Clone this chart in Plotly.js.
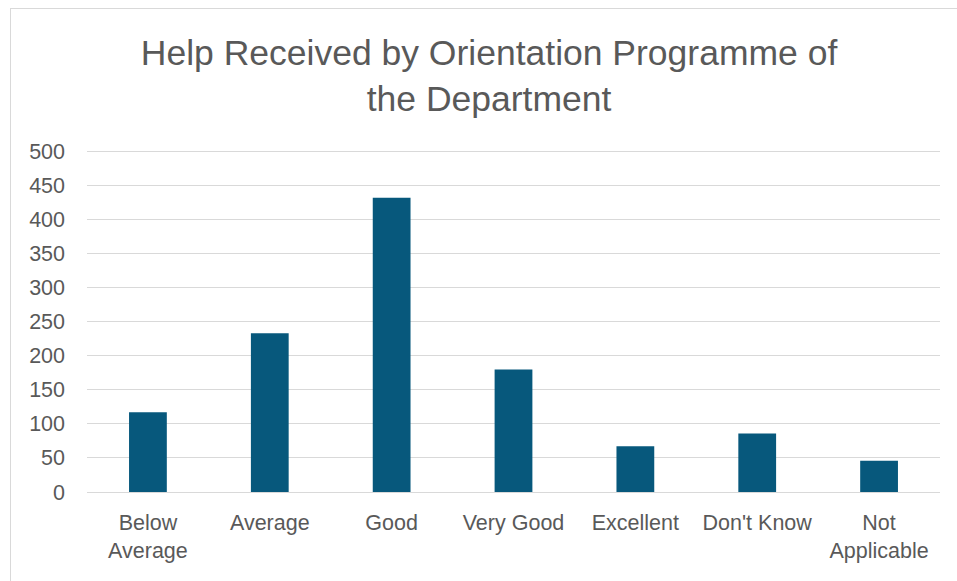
<!DOCTYPE html>
<html>
<head>
<meta charset="utf-8">
<script src="https://cdn.plot.ly/plotly-3.0.1.min.js"></script>
<style>
html,body{margin:0;padding:0;background:#fff;}
#chart{width:957px;height:581px;position:absolute;left:0;top:0;}
#frame{position:absolute;left:10px;top:8px;width:947px;height:573px;border-left:1px solid #d9d9d9;border-top:1px solid #d9d9d9;pointer-events:none;}
</style>
</head>
<body>
<div id="chart"></div>
<div id="frame"></div>
<script>
const categories = ["Below<br>Average", "Average", "Good", "Very Good", "Excellent", "Don't Know", "Not<br>Applicable"];
const counts = [117, 233, 432, 180, 67, 86, 46];
const yTicks = [0, 50, 100, 150, 200, 250, 300, 350, 400, 450, 500];

const fontFam = "Liberation Sans, Arial, sans-serif";
const data = [{
  type: "bar",
  x: categories,
  y: counts,
  marker: {color: "#07587c"},
  width: 0.31,
  hoverinfo: "x+y"
}];
const layout = {
  width: 957, height: 581,
  margin: {l: 87, r: 17, t: 148, b: 89},
  paper_bgcolor: "rgba(0,0,0,0)",
  plot_bgcolor: "rgba(0,0,0,0)",
  showlegend: false,
  title: {
    text: "Help Received by Orientation Programme of<br>the Department",
    font: {family: fontFam, size: 35.5, color: "#595959"},
    x: 0.511, xref: "container", xanchor: "center",
    y: 0.888, yref: "container", yanchor: "top"
  },
  xaxis: {
    type: "category",
    tickfont: {family: fontFam, size: 21.5, color: "#595959"},
    showgrid: false,
    showline: true, linecolor: "#d9d9d9", linewidth: 1,
    ticks: "", ticklabelstandoff: 11,
    fixedrange: true
  },
  yaxis: {
    range: [0, 505],
    tickvals: yTicks,
    ticktext: yTicks.map(String),
    tickfont: {family: fontFam, size: 21.5, color: "#595959"},
    showgrid: true, gridcolor: "#d9d9d9", gridwidth: 1,
    zeroline: false, showline: false,
    ticks: "", ticklabelstandoff: 21,
    fixedrange: true
  }
};
Plotly.newPlot("chart", data, layout, {displayModeBar: false, staticPlot: true});
</script>
</body>
</html>
